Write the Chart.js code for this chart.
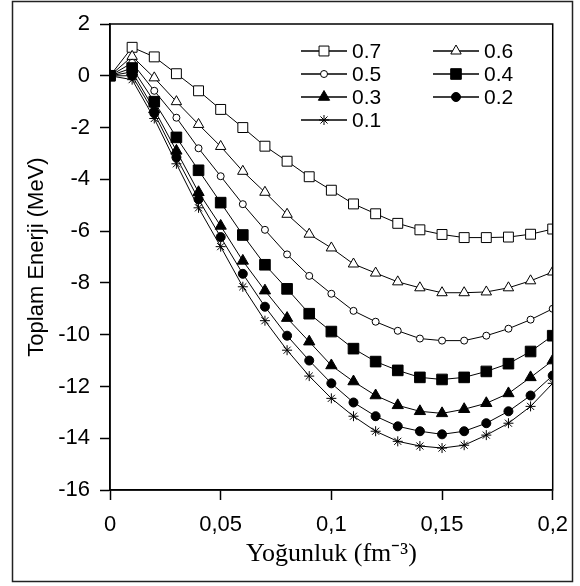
<!DOCTYPE html>
<html>
<head>
<meta charset="utf-8">
<script src="https://cdn.jsdelivr.net/npm/chart.js@4.4.1/dist/chart.umd.min.js"></script>
<style>
html,body{margin:0;padding:0;background:#fff;}
canvas{display:block;}
</style>
</head>
<body>
<canvas id="c" width="580" height="586"></canvas>
<script>
const density = [0,0.01,0.02,0.03,0.04,0.05,0.06,0.07,0.08,0.09,0.10,0.11,0.12,0.13,0.14,0.15,0.16,0.17,0.18,0.19,0.20];
const seriesLabels = ['0.7','0.6','0.5','0.4','0.3','0.2','0.1'];
const s07 = [0,1.10,0.73,0.08,-0.58,-1.30,-2.00,-2.72,-3.30,-3.90,-4.42,-4.95,-5.33,-5.70,-5.95,-6.13,-6.25,-6.25,-6.23,-6.12,-5.92];
const s06 = [0,0.75,-0.08,-1.00,-1.88,-2.73,-3.69,-4.50,-5.35,-6.12,-6.65,-7.27,-7.62,-7.96,-8.19,-8.38,-8.38,-8.35,-8.19,-7.92,-7.58];
const s05 = [0,0.50,-0.58,-1.62,-2.80,-3.88,-4.96,-5.95,-6.90,-7.73,-8.42,-9.08,-9.50,-9.85,-10.15,-10.23,-10.23,-10.04,-9.77,-9.42,-9.00];
const s04 = [0,0.30,-1.00,-2.38,-3.65,-4.90,-6.15,-7.30,-8.23,-9.19,-9.88,-10.54,-11.04,-11.38,-11.65,-11.73,-11.65,-11.42,-11.12,-10.65,-10.04];
const s03 = [0,0.15,-1.30,-2.90,-4.50,-5.80,-7.15,-8.30,-9.36,-10.27,-11.19,-11.81,-12.35,-12.73,-12.96,-13.04,-12.88,-12.65,-12.27,-11.65,-11.00];
const s02 = [0,0.00,-1.45,-3.15,-4.77,-6.23,-7.65,-8.92,-10.04,-11.00,-11.88,-12.62,-13.15,-13.54,-13.73,-13.85,-13.73,-13.42,-12.96,-12.35,-11.58];
const s01 = [0,-0.15,-1.65,-3.40,-5.10,-6.60,-8.15,-9.46,-10.60,-11.60,-12.46,-13.15,-13.73,-14.12,-14.30,-14.38,-14.27,-13.88,-13.42,-12.77,-11.88];
const xTickLabels = ['0','0,05','0,1','0,15','0,2'];
const xTitle = 'Yoğunluk (fm⁻³)';
const yTitle = 'Toplam Enerji (MeV)';

const allSeries = [s07,s06,s05,s04,s03,s02,s01];
const markers = [
  {style:'rect', r:7, fill:'#fff'},
  {style:'triangle', r:6, fill:'#fff'},
  {style:'circle', r:3.5, fill:'#fff'},
  {style:'rect', r:7.5, fill:'#000'},
  {style:'triangle', r:6.5, fill:'#000'},
  {style:'circle', r:4.5, fill:'#000'},
  {style:'star', r:5, fill:'#000'}
];
const SANS = "'Liberation Sans', Arial, sans-serif";

const datasets = allSeries.map((arr,i)=>({
  label: seriesLabels[i],
  data: arr.map((v,j)=>({x:density[j], y:v})),
  borderColor:'#000',
  borderWidth:1,
  backgroundColor: markers[i].fill,
  pointStyle: markers[i].style,
  pointRadius: markers[i].r,
  pointBackgroundColor: markers[i].fill,
  pointBorderColor:'#000',
  pointBorderWidth:1,
  tension:0,
  order: 7-i
}));

const framePlugin = {
  id:'frame',
  afterDraw(chart){
    const ctx = chart.ctx, a = chart.chartArea;
    ctx.save();
    ctx.strokeStyle='#000';
    ctx.lineWidth=1.5;
    ctx.strokeRect(a.left, a.top, a.right-a.left, a.bottom-a.top);
    ctx.lineWidth=1.5;
    ctx.strokeStyle='#222';
    ctx.strokeRect(12.5, 1.5, 560, 580);
    // legend
    const cols=[{x0:301,x1:347,tx:352},{x0:433,x1:479,tx:484}];
    const rows=[51,74,97,120];
    ctx.font = "21px " + SANS;
    ctx.textBaseline='middle';
    ctx.textAlign='left';
    chart.data.datasets.forEach((ds,i)=>{
      const c=cols[i%2], y=rows[Math.floor(i/2)];
      ctx.strokeStyle='#000'; ctx.lineWidth=1.5;
      ctx.beginPath(); ctx.moveTo(c.x0,y); ctx.lineTo(c.x1,y); ctx.stroke();
      ctx.lineWidth=1;
      ctx.fillStyle=markers[i].fill;
      Chart.helpers.drawPoint(ctx,{pointStyle:markers[i].style, radius:markers[i].r, borderWidth:1}, (c.x0+c.x1)/2, y);
      ctx.fillStyle='#000';
      ctx.fillText(ds.label, c.tx, y+1);
    });
    ctx.restore();
  }
};

new Chart(document.getElementById('c'),{
  type:'line',
  data:{datasets},
  options:{
    responsive:false,
    animation:false,
    layout:{padding:{left:0,top:24,right:23,bottom:0}},
    plugins:{legend:{display:false},tooltip:{enabled:false}},
    scales:{
      x:{
        type:'linear', min:0, max:0.2,
        afterFit(s){ s.height = 96; },
        ticks:{stepSize:0.05, color:'#000', padding:12, font:{family:SANS,size:22},
          callback:(v,i)=>xTickLabels[i]},
        grid:{drawOnChartArea:false, drawTicks:true, tickLength:10, tickColor:'#000', tickWidth:1.5},
        border:{display:true,color:'#000',width:1.5},
        title:{display:true,text:xTitle,color:'#000',font:{family:"'Liberation Serif','Times New Roman',serif",size:26},padding:{top:0,bottom:16}}
      },
      y:{
        min:-16, max:2,
        afterFit(s){ s.width = 110; },
        ticks:{stepSize:2, color:'#000', padding:10, font:{family:SANS,size:22}},
        grid:{drawOnChartArea:false, drawTicks:true, tickLength:10, tickColor:'#000', tickWidth:1.5},
        border:{display:true,color:'#000',width:1.5},
        title:{display:true,text:yTitle,color:'#000',font:{family:SANS,size:22},padding:{top:24,bottom:0}}
      }
    }
  },
  plugins:[framePlugin]
});
</script>
</body>
</html>
